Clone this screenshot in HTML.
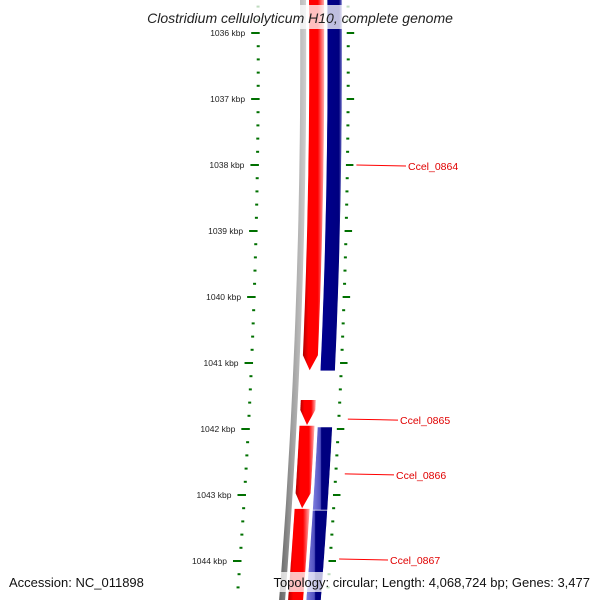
<!DOCTYPE html>
<html><head><meta charset="utf-8"><style>
body{margin:0;background:#fff;}
svg{display:block;font-family:"Liberation Sans",sans-serif;}
</style></head><body>
<svg id="c" width="600" height="600" viewBox="0 0 600 600">
<defs>
<linearGradient id="gRed" x1="0" x2="1" y1="0" y2="0">
<stop offset="0" stop-color="#b00000"/><stop offset="0.25" stop-color="#ff0000"/><stop offset="0.7" stop-color="#ff0000"/><stop offset="1" stop-color="#ffb0b0"/></linearGradient>
<linearGradient id="gBlue" x1="0" x2="1" y1="0" y2="0">
<stop offset="0" stop-color="#8080e0"/><stop offset="0.4" stop-color="#5050c0"/><stop offset="0.45" stop-color="#000080"/><stop offset="1" stop-color="#000080"/></linearGradient>
<linearGradient id="gBlueTop" x1="0" x2="1" y1="0" y2="0">
<stop offset="0" stop-color="#000090"/><stop offset="0.85" stop-color="#000080"/><stop offset="1" stop-color="#8080d0"/></linearGradient>
<linearGradient id="gGray" x1="0" x2="1" y1="0" y2="0">
<stop offset="0" stop-color="#606060"/><stop offset="0.5" stop-color="#a0a0a0"/><stop offset="1" stop-color="#d0d0d0"/></linearGradient>
</defs>
<g id="tracks"></g>
<rect x="125" y="5" width="350" height="24" fill="#fff" opacity="0.75"/>
<text x="300" y="23" text-anchor="middle" font-size="14" font-style="italic" fill="#222">Clostridium cellulolyticum H10, complete genome</text>
<rect x="255" y="572" width="340" height="20" fill="#fff" opacity="0.75"/>
<text x="9" y="587" font-size="13" fill="#111">Accession: NC_011898</text>
<text x="590" y="587" text-anchor="end" font-size="13" fill="#111">Topology: circular; Length: 4,068,724 bp; Genes: 3,477</text>
</svg>
<script>
const tickKbp=[1036,1037,1038,1039,1040,1041,1042,1043,1044];
const geneStrand=[1,1,1,1,-1,-1,-1];
const geneStart=[1035.4,1041.56,1041.95,1043.21,1035.4,1041.97,1043.23];
const geneEnd=[1041.11,1041.94,1043.2,1045.0,1041.12,1043.23,1045.0];
const labelNames=["Ccel_0864","Ccel_0865","Ccel_0866","Ccel_0867"];
const labelKbp=[1038.0,1041.85,1042.68,1043.97];
const labelX=[408,400,396,390];

const NS="http://www.w3.org/2000/svg";
const g=document.getElementById('tracks');
const yOf=k=>33+(k-1036)*66;
const off=y=>0.00833*y-7.2e-5*y*y;
function el(t,a){const e=document.createElementNS(NS,t);for(const k in a)e.setAttribute(k,a[k]);g.appendChild(e);return e;}
function band(x1,x2,y1,y2,tip){ // polygon following curve
  const L=[],R=[];const n=30;
  const yEnd=tip?y2-15:y2;
  for(let i=0;i<=n;i++){const y=y1+(yEnd-y1)*i/n;L.push((x1+off(y)).toFixed(1)+','+y.toFixed(1));R.push((x2+off(y)).toFixed(1)+','+y.toFixed(1));}
  let pts=L;
  if(tip){pts=pts.concat([((x1+x2)/2+off(y2)).toFixed(1)+','+y2.toFixed(1)]);}
  return pts.concat(R.reverse()).join(' ');
}
// backbone
let p=el('polygon',{points:band(300,306,-5,605,false),fill:'url(#gGray)'});


// genes
for(let i=0;i<geneStart.length;i++){
  const y1=Math.max(-5,yOf(geneStart[i])),y2=Math.min(605,yOf(geneEnd[i]));
  const fwd=geneStrand[i]>0;
  const x1=fwd?309:327,x2=fwd?324:342;
  const poly=el('polygon',{points:band(x1,x2,y1,y2,fwd&&y2<600),fill:fwd?'url(#gRed)':(y1<0?'url(#gBlueTop)':'url(#gBlue)'),stroke:'#fff','stroke-width':fwd?0:0.6});
  
  
}
// ticks
const k0=tickKbp[0]-0.6,k1=tickKbp[tickKbp.length-1]+0.4;
for(let k=Math.ceil(k0*5)/5;k<=k1+1e-6;k+=0.2){
  const y=yOf(k);const major=Math.abs(k-Math.round(k))<0.01;
  const xl=258+off(y),xr=348+off(y);
  const a=el('line',{x1:major?xl-7:xl-1.5,x2:xl+1.5,y1:y,y2:y,stroke:'#007000','stroke-width':2});
  
  
  const b=el('line',{x1:xr-1.5,x2:major?xr+6:xr+1.5,y1:y,y2:y,stroke:'#007000','stroke-width':2});
  
  
}
for(const k of tickKbp){
  const y=yOf(k);
  const t=el('text',{x:245+off(y),y:y+3,'text-anchor':'end','font-size':8.5,fill:'#222'});
  t.textContent=k+' kbp';
  
  
}
// labels
for(let i=0;i<labelNames.length;i++){
  const y=yOf(labelKbp[i]);const xs=357+off(y)-(i?8:0)+ (i?0:0);
  const l=el('line',{x1:350+off(y)+7,x2:labelX[i]-2,y1:y,y2:y+1,stroke:'#ff0000','stroke-width':1});
  
  
  const t=el('text',{x:labelX[i],y:y+5,'font-size':10.5,fill:'#e00000'});
  t.textContent=labelNames[i];
  
  
}
</script>
</body></html>
